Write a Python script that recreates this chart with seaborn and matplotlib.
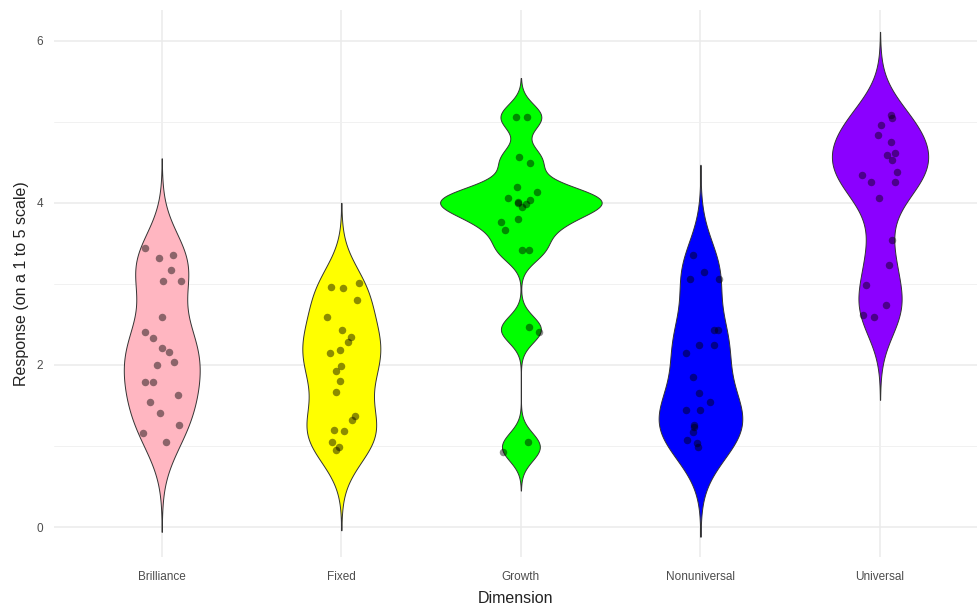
import numpy as np
import pandas as pd
import matplotlib
matplotlib.use("Agg")
import matplotlib.pyplot as plt
from matplotlib.ticker import FixedLocator
import seaborn as sns

# Categories and responses per dimension
dimensions = ["Brilliance", "Fixed", "Growth", "Nonuniversal", "Universal"]

brilliance = [3.44, 3.36, 3.32, 3.17, 3.04, 3.04, 2.59, 2.41, 2.33, 2.21, 2.16,
              2.04, 2.00, 1.79, 1.79, 1.63, 1.54, 1.41, 1.26, 1.16, 1.05]
fixed = [3.01, 2.96, 2.95, 2.80, 2.59, 2.43, 2.35, 2.28, 2.18, 2.15, 1.99,
         1.93, 1.80, 1.67, 1.37, 1.32, 1.20, 1.19, 1.05, 0.99, 0.95]
growth = [5.06, 5.06, 4.57, 4.49, 4.19, 4.14, 4.06, 4.03, 4.01, 4.00, 3.98,
          3.95, 3.80, 3.76, 3.67, 3.42, 3.42, 2.47, 2.41, 1.05, 0.93]
nonuniversal = [3.36, 3.15, 3.06, 3.06, 2.43, 2.43, 2.25, 2.25, 2.15, 1.85,
                1.65, 1.54, 1.44, 1.44, 1.26, 1.23, 1.17, 1.07, 1.04, 0.99]
universal = [5.09, 5.05, 4.96, 4.84, 4.75, 4.62, 4.59, 4.53, 4.38, 4.35, 4.26,
             4.26, 4.06, 3.54, 3.23, 2.99, 2.74, 2.62, 2.59]

y_ticks = [0, 2, 4, 6]

fill_colors = ["#FFB6C1", "#FFFF00", "#00FF00", "#0000FF", "#8B00FF"]

responses = dict(zip(dimensions, [brilliance, fixed, growth, nonuniversal, universal]))
df = pd.DataFrame(
    [(d, v) for d in dimensions for v in responses[d]],
    columns=["Dimension", "Response"],
)

# Kernel bandwidth (response units) for each violin
bandwidth = {"Brilliance": 0.37, "Fixed": 0.33, "Growth": 0.16,
             "Nonuniversal": 0.37, "Universal": 0.34}
CUT = 3

sns.set_theme(style="whitegrid")
plt.rcParams["font.family"] = ["Liberation Sans", "DejaVu Sans"]

fig = plt.figure(figsize=(9.77, 6.05), dpi=100)
ax = fig.add_axes([54 / 977, 48 / 605, 923 / 977, 547 / 605])
ax.set_facecolor("white")


def kde_peak(vals, bw):
    vals = np.asarray(vals, dtype=float)
    grid = np.linspace(vals.min() - CUT * bw, vals.max() + CUT * bw, 400)
    z = (grid[:, None] - vals[None, :]) / bw
    dens = np.exp(-0.5 * z ** 2).sum(axis=1) / (len(vals) * bw * np.sqrt(2 * np.pi))
    return dens.max()


# Equal-area violins: width proportional to each density's peak
peaks = {d: kde_peak(responses[d], bandwidth[d]) for d in dimensions}
top_peak = max(peaks.values())

for d, col in zip(dimensions, fill_colors):
    vals = np.asarray(responses[d], dtype=float)
    sub = df[df["Dimension"] == d]
    sns.violinplot(
        data=sub, x="Dimension", y="Response", order=dimensions,
        color=col, saturation=1,
        bw_method=bandwidth[d] / vals.std(ddof=1), cut=CUT, gridsize=300,
        density_norm="width", width=0.9 * peaks[d] / top_peak,
        inner=None, linecolor="#333333", linewidth=0.7, ax=ax,
    )

np.random.seed(7)
sns.stripplot(
    data=df, x="Dimension", y="Response", order=dimensions,
    color="black", alpha=0.45, size=5.4, jitter=0.11, linewidth=0, ax=ax,
)

ax.set_xlim(-0.6, 4.54)
ax.set_ylim(-0.37, 6.38)
ax.set_yticks(y_ticks)
ax.yaxis.set_minor_locator(FixedLocator([1, 3, 5]))
ax.set_axisbelow(True)
ax.grid(which="major", color="#EBEBEB", linewidth=1.1)
ax.grid(which="minor", axis="y", color="#EFEFEF", linewidth=0.6)
for s in ax.spines.values():
    s.set_visible(False)

ax.tick_params(axis="both", which="both", length=0, labelsize=8.5,
               labelcolor="#4D4D4D")
ax.tick_params(axis="x", pad=10)
ax.tick_params(axis="y", pad=8)
ax.set_xlabel("Dimension", fontsize=11.5, color="#222222", labelpad=6)
ax.set_ylabel("Response (on a 1 to 5 scale)", fontsize=11.5, color="#222222",
              labelpad=5)

fig.savefig("out.png", dpi=100, facecolor="white")
